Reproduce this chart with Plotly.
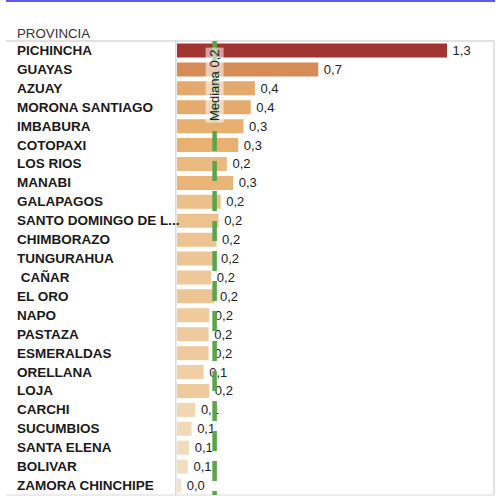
import plotly.graph_objects as go

# ---- data ----
provinces = ["PICHINCHA", "GUAYAS", "AZUAY", "MORONA SANTIAGO", "IMBABURA", "COTOPAXI",
             "LOS RIOS", "MANABI", "GALAPAGOS", "SANTO DOMINGO DE L...", "CHIMBORAZO",
             "TUNGURAHUA", " CAÑAR", "EL ORO", "NAPO", "PASTAZA", "ESMERALDAS", "ORELLANA",
             "LOJA", "CARCHI", "SUCUMBIOS", "SANTA ELENA", "BOLIVAR", "ZAMORA CHINCHIPE"]
values = [1.30, 0.68, 0.375, 0.355, 0.32, 0.295, 0.24, 0.27, 0.21, 0.20, 0.19, 0.185,
          0.165, 0.18, 0.155, 0.152, 0.152, 0.128, 0.155, 0.088, 0.07, 0.058, 0.052, 0.02]
MEDIAN = 0.181
header = "PROVINCIA"

W, H = 496, 496
ML, MR, MT, MB = 177, 2, 41, 1
PW, PH = W - ML - MR, H - MT - MB


def px_x(p):
    return (p - ML) / PW


def px_y(p):
    return (H - MB - p) / PH


FONT = "Liberation Sans, Arial, sans-serif"

fig = go.Figure()
fig.add_trace(go.Bar(
    y=provinces, x=values, orientation="h",
    width=0.74,
    marker=dict(color=values, cmin=0, cmax=1.3,
                colorscale=[[0, "#f5e6cf"], [0.22, "#e9b272"], [0.55, "#d38955"], [1, "#a23432"]],
                line=dict(width=0)),
    texttemplate="\u2009%{x:.1f}", textposition="outside", cliponaxis=False,
    constraintext="none",
    textfont=dict(size=13, color="#222222", family=FONT),
    hoverinfo="skip",
))

shapes = []
# frame lines
gray = "#d9d9d9"
shapes.append(dict(type="line", xref="paper", yref="paper", x0=px_x(6), x1=1, y0=1, y1=1,
                   line=dict(color=gray, width=1.5)))
shapes.append(dict(type="line", xref="paper", yref="paper", x0=1, x1=1, y0=0, y1=1,
                   line=dict(color=gray, width=1.5)))
shapes.append(dict(type="line", xref="paper", yref="paper", x0=px_x(6), x1=1, y0=0, y1=0,
                   line=dict(color=gray, width=1)))
shapes.append(dict(type="line", xref="paper", yref="paper", x0=px_x(175.8), x1=px_x(175.8), y0=0, y1=1,
                   line=dict(color=gray, width=1.5)))
# blue top border (bottom edge of a box above)
shapes.append(dict(type="path", xref="paper", yref="paper",
                   path=f"M {px_x(7)},{px_y(-4)} L {px_x(7)},{px_y(1)} L {px_x(494)},{px_y(1)} L {px_x(494)},{px_y(-4)}",
                   line=dict(color="#5b5bf2", width=2)))
# median line
shapes.append(dict(type="line", xref="x", yref="paper", x0=MEDIAN, x1=MEDIAN, y0=1, y1=0,
                   layer="above", line=dict(color="#5aa548", width=4.5, dash="20px,10px")))

annotations = []
annotations.append(dict(text=header, xref="paper", yref="paper", x=px_x(15.5), y=px_y(33),
                        xanchor="left", yanchor="middle", showarrow=False,
                        font=dict(size=13.3, color="#333333", family=FONT)))
for i, name in enumerate(provinces):
    annotations.append(dict(text="<b>" + name + "</b>", xref="paper", yref="y",
                            x=px_x(15.5), y=name, xanchor="left", yanchor="middle",
                            showarrow=False,
                            font=dict(size=13.5, color="#1a1a1a", family=FONT)))
med_txt = f"Mediana {MEDIAN:.1f}".replace(".", ",")
annotations.append(dict(text=med_txt, xref="x", yref="paper", x=MEDIAN, y=px_y(85.5),
                        xanchor="center", yanchor="middle",
                        textangle=-90, showarrow=False, bgcolor="rgba(255,255,255,0.55)",
                        borderpad=1,
                        font=dict(size=13, color="#222222", family=FONT)))

fig.update_layout(
    width=W, height=H,
    margin=dict(l=ML, r=MR, t=MT, b=MB),
    paper_bgcolor="white", plot_bgcolor="white",
    separators=",.",
    showlegend=False,
    bargap=0.26,
    xaxis=dict(range=[0, PW / 207.7], visible=False, fixedrange=True),
    yaxis=dict(categoryorder="array", categoryarray=provinces, autorange="reversed",
               showticklabels=False, showgrid=False, zeroline=False, fixedrange=True),
    shapes=shapes,
    annotations=annotations,
    font=dict(family=FONT),
)

fig.write_html("out.html", config={"displayModeBar": False},
               post_script="document.body.style.margin='0';document.body.style.padding='0';")
